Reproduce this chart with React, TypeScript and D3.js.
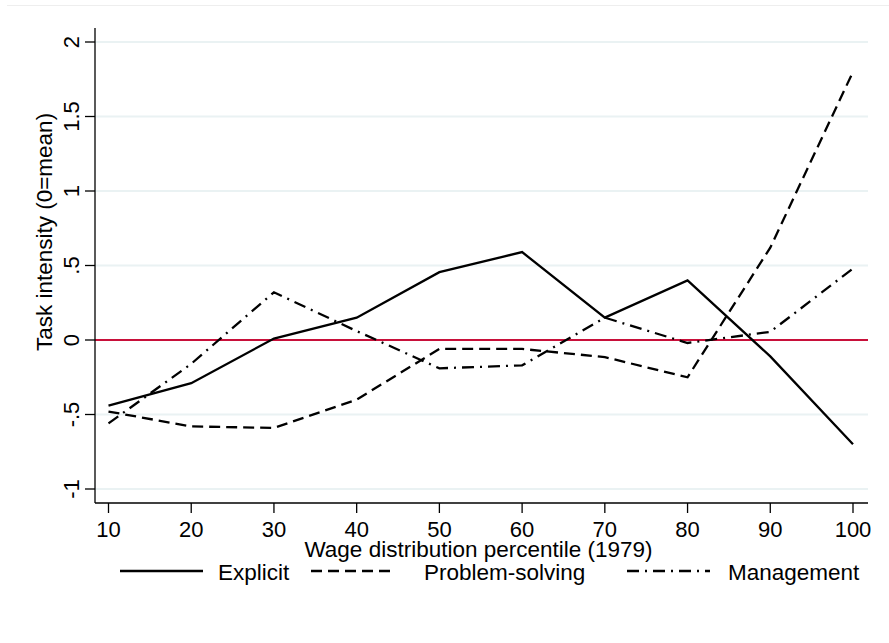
import React from "react";
import * as d3 from "d3";

const percentiles = [10, 20, 30, 40, 50, 60, 70, 80, 90, 100];
const explicit = [-0.44, -0.29, 0.01, 0.15, 0.455, 0.59, 0.15, 0.4, -0.11, -0.7];
const problemSolving = [-0.48, -0.58, -0.59, -0.4, -0.06, -0.06, -0.115, -0.25, 0.62, 1.8];
const management = [-0.56, -0.16, 0.32, 0.06, -0.19, -0.17, 0.15, -0.02, 0.055, 0.48];

const yTicks = [-1, -0.5, 0, 0.5, 1, 1.5, 2];
const yTickLabels = ["-1", "-.5", "0", ".5", "1", "1.5", "2"];
const xTicks = percentiles;

const seriesNames = ["Explicit", "Problem-solving", "Management"];
const seriesDash = ["none", "11,6", "12,6,2,6"];

const W = 889;
const H = 643;
const plotLeft = 95;
const plotRight = 868;
const plotTop = 28;
const plotBottom = 503;

const FONT = "'Liberation Sans', Arial, Helvetica, sans-serif";

export default function App() {
  const x = d3.scaleLinear().domain([10, 100]).range([108.5, 853]);
  const y = d3.scaleLinear().domain([-1, 2]).range([489, 42]);
  const line = d3
    .line<number>()
    .x((_, i) => x(percentiles[i]))
    .y((d) => y(d));
  const allSeries = [explicit, problemSolving, management];

  const legendSamples = [
    [120, 203, 218],
    [311, 394, 424],
    [627, 710, 728],
  ];

  return (
    <svg
      width={W}
      height={H}
      style={{ position: "absolute", left: 0, top: 0, background: "#fff" }}
      fontFamily={FONT}
    >
      <rect x={0} y={0} width={W} height={H} fill="#fff" />
      <line x1={7} x2={W} y1={5.5} y2={5.5} stroke="#eeeeee" strokeWidth={1} />
      {yTicks.map((t) =>
        t === 0 ? null : (
          <line
            key={"g" + t}
            x1={plotLeft}
            x2={plotRight}
            y1={y(t)}
            y2={y(t)}
            stroke="#eaf2f3"
            strokeWidth={2}
          />
        )
      )}
      <line x1={plotLeft} x2={plotRight} y1={y(0)} y2={y(0)} stroke="#c8103a" strokeWidth={2} />
      {allSeries.map((s, i) => (
        <path
          key={"s" + i}
          d={line(s) || ""}
          fill="none"
          stroke="#000"
          strokeWidth={2.3}
          strokeDasharray={seriesDash[i]}
          strokeLinejoin="miter"
        />
      ))}
      <line x1={plotLeft} x2={plotLeft} y1={plotTop} y2={plotBottom} stroke="#000" strokeWidth={1.3} />
      <line x1={plotLeft} x2={plotRight} y1={plotBottom} y2={plotBottom} stroke="#000" strokeWidth={1.3} />
      {yTicks.map((t, i) => (
        <g key={"yt" + t}>
          <line x1={plotLeft - 10} x2={plotLeft} y1={y(t)} y2={y(t)} stroke="#000" strokeWidth={1.3} />
          <text
            transform={`translate(79,${y(t)}) rotate(-90)`}
            textAnchor="middle"
            fontSize={22}
            fill="#000"
          >
            {yTickLabels[i]}
          </text>
        </g>
      ))}
      {xTicks.map((t) => (
        <g key={"xt" + t}>
          <line x1={x(t)} x2={x(t)} y1={plotBottom} y2={plotBottom + 10} stroke="#000" strokeWidth={1.3} />
          <text x={x(t)} y={537} textAnchor="middle" fontSize={22} fill="#000">
            {t}
          </text>
        </g>
      ))}
      <text
        x={(plotLeft + plotRight) / 2 - 3}
        y={557}
        textAnchor="middle"
        fontSize={22.5}
        fill="#000"
      >
        Wage distribution percentile (1979)
      </text>
      <text
        transform={`translate(52,232) rotate(-90)`}
        textAnchor="middle"
        fontSize={22.5}
        fill="#000"
      >
        Task intensity (0=mean)
      </text>
      {seriesNames.map((n, i) => (
        <g key={"l" + i}>
          <line
            x1={legendSamples[i][0]}
            x2={legendSamples[i][1]}
            y1={571}
            y2={571}
            stroke="#000"
            strokeWidth={2.3}
            strokeDasharray={seriesDash[i]}
          />
          <text x={legendSamples[i][2]} y={579.5} fontSize={22.5} fill="#000">
            {n}
          </text>
        </g>
      ))}
    </svg>
  );
}
